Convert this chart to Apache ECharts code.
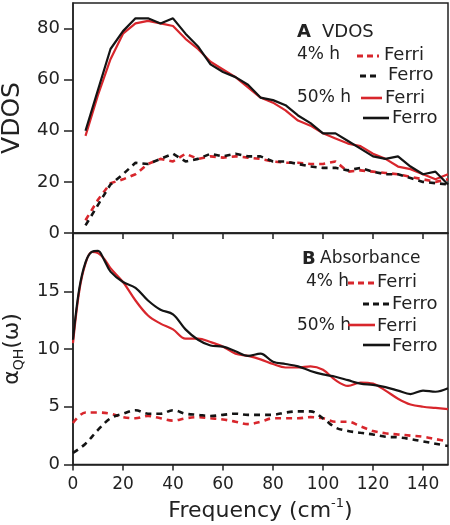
<!DOCTYPE html>
<html><head><meta charset="utf-8">
<script src="https://cdn.jsdelivr.net/npm/echarts@6/dist/echarts.min.js"></script>
<style>html,body{margin:0;padding:0;background:#fff}#c{width:450px;height:525px}</style>
</head><body><div id="c"></div>
<script>
// ---- Data ----
const freqVdos = [5,10,15,20,25,30,35,40,45,50,55,60,65,70,75,80,85,90,95,100,105,110,115,120,125,130,135,140,145,150];
const vdosFerri4  = [5,13,19.5,21,23,27,29,28,31,29,30,29.5,30,29.5,29,28,27.5,27.5,27,27,28,24,24.5,24,23.5,23,22,21,20,21];
const vdosFerro4  = [3,11,19,23,27.5,27,29,31,28,29,31,30,31,30,30,28,28,27,26,25.5,25.5,24.5,25.5,24,23,23,21.5,20,19.5,19];
const vdosFerri50 = [38,54,68,78,82,83,82,81,76,72,67,64,61,57,53,51,48,44,42,39,37,35,34,31,29,26,25,23,21,23];
const vdosFerro50 = [40,56,72,79,84,84,82,84,78,73,66,63,61,58,53,52,50,46,43,39,39,36,33,30,29,30,26,23,24,19];

const freqAbsSolid = [0,2.5,5,7.5,10,12.5,15,20,25,30,35,40,45,50,55,60,65,70,75,80,85,90,95,100,105,110,115,120,125,130,135,140,145,150];
const absFerri50 = [10.5,15.0,17.4,18.4,18.3,17.8,17.0,15.8,14.2,12.9,12.2,11.7,10.9,10.9,10.6,10.2,9.6,9.4,9.1,8.7,8.4,8.4,8.5,8.2,7.3,6.8,7.1,7.0,6.4,5.7,5.2,5.0,4.9,4.8];
const absFerro50 = [10.8,15.2,17.5,18.4,18.5,17.7,16.7,15.8,15.3,14.2,13.4,13.0,11.7,10.8,10.3,10.2,9.8,9.4,9.6,8.9,8.7,8.5,8.1,7.8,7.6,7.3,7.0,6.9,6.7,6.4,6.1,6.4,6.3,6.6];

const freqAbsDot = [0,5,10,15,20,25,30,35,40,45,50,55,60,65,70,75,80,85,90,95,100,105,110,115,120,125,130,135,140,145,150];
const absFerri4 = [3.6,4.5,4.5,4.4,4.1,4.0,4.2,4.0,3.8,4.0,4.1,4.0,3.9,3.7,3.5,3.7,4.0,4.0,4.0,4.1,4.0,3.7,3.7,3.3,2.9,2.7,2.6,2.5,2.4,2.2,2.0];
const absFerro4 = [1.0,1.8,3.0,4.0,4.4,4.7,4.4,4.4,4.7,4.4,4.3,4.2,4.3,4.4,4.3,4.3,4.3,4.5,4.6,4.6,4.0,3.2,2.9,2.75,2.6,2.4,2.35,2.2,2.0,1.8,1.6];

const xTicks = [0,20,40,60,80,100,120,140];
const yTicksVdos = [0,20,40,60,80];
const yTicksAbs = [0,5,10,15];

// ---- Styles ----
const RED = '#d8262c', BLACK = '#141414', AX = '#222';
const FONT = 'DejaVu Sans';
const zip = (xs, ys) => xs.map((x, i) => [x, ys[i]]);

function mk(name, xi, xs, ys, color, dashed, smooth) {
  return {
    name, type: 'line', xAxisIndex: xi, yAxisIndex: xi, data: zip(xs, ys),
    showSymbol: false, symbol: 'none', smooth: smooth ? 0.35 : false,
    lineStyle: { color, width: dashed ? 2.6 : 2.2, type: dashed ? [6, 5] : 'solid' },
    animation: false, silent: true
  };
}

function xAx(gi, showLabels) {
  return {
    type: 'value', gridIndex: gi, min: 0, max: 150,
    axisLine: { show: true, lineStyle: { color: AX, width: 1.5 } },
    axisTick: { show: true, length: 6, lineStyle: { color: AX, width: 1.5 }, customValues: xTicks },
    axisLabel: { show: showLabels, customValues: xTicks, fontSize: 17, fontFamily: FONT, color: AX, margin: 12 },
    splitLine: { show: false },
    name: showLabels ? 'Frequency (cm{sup|-1})' : '',
    nameLocation: 'middle', nameGap: 33,
    nameTextStyle: { fontSize: 22, fontFamily: FONT, color: AX, lineHeight: 28,
      rich: { sup: { fontSize: 13, fontFamily: FONT, color: AX, verticalAlign: 'top', lineHeight: 28, padding: [0, 0, 12, 0] } } }
  };
}

function yAx(gi, max, ticks, name, gap, rich) {
  return {
    type: 'value', gridIndex: gi, min: 0, max,
    axisLine: { show: true, lineStyle: { color: AX, width: 1.5 } },
    axisTick: { show: true, length: 9, lineStyle: { color: AX, width: 1.5 }, customValues: ticks },
    axisLabel: { customValues: ticks, fontSize: 18, fontFamily: FONT, color: AX, margin: 13 },
    splitLine: { show: false },
    name, nameLocation: 'middle', nameGap: gap, nameRotate: 90,
    nameTextStyle: Object.assign({ fontSize: 25, fontFamily: FONT, color: AX }, rich ? { rich } : {})
  };
}

function txt(t, x, y, size, bold) {
  return { type: 'text', x, y, silent: true,
    style: { text: t, font: (bold ? 'bold ' : '') + size + 'px ' + FONT, fill: AX, verticalAlign: 'middle', align: 'left' } };
}
function ln(x1, x2, y, color, dashed) {
  return { type: 'line', silent: true, shape: { x1, y1: y, x2, y2: y },
    style: { stroke: color, lineWidth: dashed ? 3 : 2.6, lineDash: dashed ? [6, 4] : null } };
}

const legendGraphics = [
  txt('A', 297, 32, 18, true), txt('VDOS', 322, 32, 18),
  txt('4% h', 297, 55, 17), ln(357, 379, 56, RED, true), txt('Ferri', 384, 55, 18),
  ln(360, 380, 76, BLACK, true), txt('Ferro', 388, 75, 18),
  txt('50% h', 297, 98, 17), ln(361, 382, 98, RED, false), txt('Ferri', 385, 98, 18),
  ln(363, 389, 118, BLACK, false), txt('Ferro', 392, 118, 18),

  txt('B', 302, 259, 18, true), txt('Absorbance', 320, 259, 17),
  txt('4% h', 306, 282, 17), ln(348, 374, 283, RED, true), txt('Ferri', 377, 282, 18),
  ln(363, 389, 304, BLACK, true), txt('Ferro', 392, 304, 18),
  txt('50% h', 297, 326, 17), ln(348, 375, 325, RED, false), txt('Ferri', 377, 326, 18),
  ln(363, 390, 345, BLACK, false), txt('Ferro', 392, 346, 18)
];

const chart = echarts.init(document.getElementById('c'), null, { renderer: 'canvas' });
chart.setOption({
  animation: false,
  backgroundColor: '#fff',
  textStyle: { fontFamily: FONT },
  grid: [
    { left: 73, right: 2, top: 3, height: 230, show: true, borderColor: AX, borderWidth: 1.5, containLabel: false, outerBoundsMode: 'none' },
    { left: 73, right: 2, top: 233.5, height: 231, show: true, borderColor: AX, borderWidth: 1.5, containLabel: false, outerBoundsMode: 'none' }
  ],
  xAxis: [xAx(0, false), xAx(1, true)],
  yAxis: [
    yAx(0, 90, yTicksVdos, 'VDOS', 48),
    yAx(1, 20, yTicksAbs, '{a|α}{s|QH}{a|(ω)}', 32, {
      a: { fontSize: 22, fontFamily: FONT, color: AX, lineHeight: 28 },
      s: { fontSize: 14, fontFamily: FONT, color: AX, verticalAlign: 'bottom', lineHeight: 28, padding: [8, 0, 0, 0] }
    })
  ],
  series: [
    mk('VDOS 4% Ferri', 0, freqVdos, vdosFerri4, RED, true),
    mk('VDOS 4% Ferro', 0, freqVdos, vdosFerro4, BLACK, true),
    mk('VDOS 50% Ferri', 0, freqVdos, vdosFerri50, RED, false),
    mk('VDOS 50% Ferro', 0, freqVdos, vdosFerro50, BLACK, false),
    mk('Abs 4% Ferri', 1, freqAbsDot, absFerri4, RED, true, true),
    mk('Abs 4% Ferro', 1, freqAbsDot, absFerro4, BLACK, true, true),
    mk('Abs 50% Ferri', 1, freqAbsSolid, absFerri50, RED, false, true),
    mk('Abs 50% Ferro', 1, freqAbsSolid, absFerro50, BLACK, false, true)
  ],
  graphic: legendGraphics
});
</script></body></html>
